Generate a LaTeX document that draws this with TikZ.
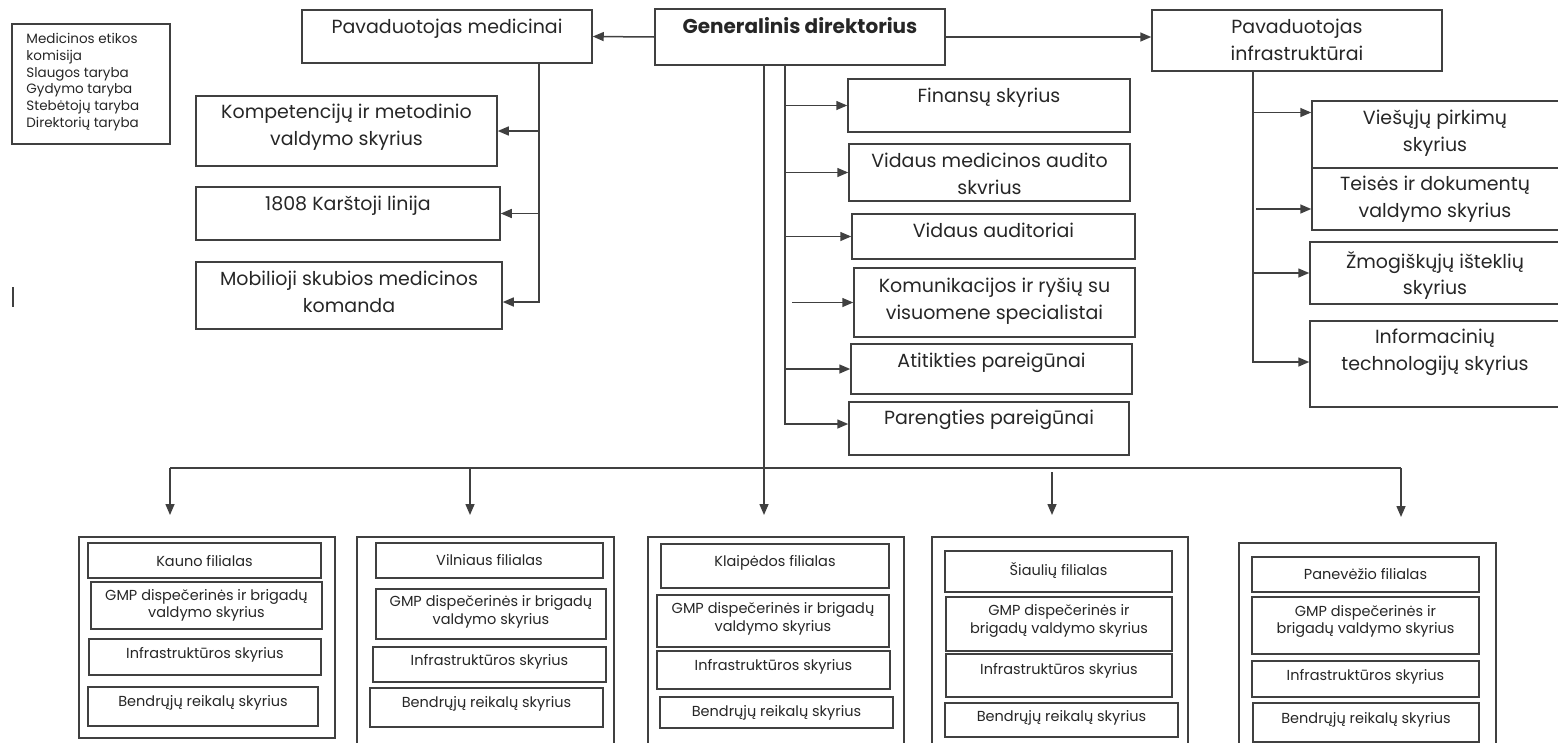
\documentclass[tikz,border=0pt]{standalone}
\usepackage{fontspec}
\setmainfont{Poppins}
\usetikzlibrary{arrows.meta,positioning,fit}

\tikzset{
  box/.style={draw=black!75, line width=1.5pt, inner sep=0pt},
  lbl/.style={font=\fontsize{19}{26.5}\selectfont, align=center, inner sep=0pt, text=black!85},
  head/.style={lbl, font=\fontsize{20}{26.5}\selectfont\bfseries},
  stxt/.style={font=\fontsize{14.5}{17.5}\selectfont, align=center, inner sep=0pt, text=black!85},
  legtxt/.style={font=\fontsize{13.5}{16.7}\selectfont, align=left, inner sep=0pt, text=black!85},
  link/.style={line width=1.5pt, draw=black!75},
  arr/.style={link, -{Triangle[length=11pt,width=9pt]}}
}

\begin{document}
\begin{tikzpicture}[x=1pt,y=-1pt]
  \clip (0,0) rectangle (1558,742);
  % councils
  \node[box, fit={(12,24) (170,144)}] (leg) {};
  \node[legtxt, anchor=north west] (legt) at ([xshift=15pt,yshift=-10pt]leg.north west)
    {Medicinos etikos\\komisija\\Slaugos taryba\\Gydymo taryba\\Stebėtojų taryba\\Direktorių taryba};
  \draw[link] (13,287) -- (13,307);

  % top level
  \node[box, fit={(655,9) (945,65)}] (gd) {};
  \node[head, below=9pt of gd.north] (gdt) {Generalinis direktorius};
  \node[box, fit={(302,10) (592,63)}] (pm) {};
  \node[lbl, below=10pt of pm.north] (pmt) {Pavaduotojas medicinai};
  \node[box, fit={(1152,10) (1442,71)}] (pi) {};
  \node[lbl, below=10pt of pi.north] (pit) {Pavaduotojas\\infrastruktūrai};

  % medicine
  \node[box, fit={(196,96) (497,166)}] (komp) {};
  \node[lbl, below=9pt of komp.north] (kompt) {Kompetencijų ir metodinio\\valdymo skyrius};
  \node[box, fit={(196,187) (500,240)}] (hot) {};
  \node[lbl, below=10pt of hot.north] (hott) {1808 Karštoji linija};
  \node[box, fit={(196,262) (502,329)}] (mob) {};
  \node[lbl, below=10pt of mob.north] (mobt) {Mobilioji skubios medicinos\\komanda};

  % director's units
  \node[box, fit={(848,79) (1130,132)}] (fin) {};
  \node[lbl, below=10pt of fin.north] (fint) {Finansų skyrius};
  \node[box, fit={(849,144) (1130,201)}] (vma) {};
  \node[lbl, below=10pt of vma.north] (vmat) {Vidaus medicinos audito\\skvrius};
  \node[box, fit={(852,214) (1135,259)}] (va) {};
  \node[lbl, below=10pt of va.north] (vat) {Vidaus auditoriai};
  \node[box, fit={(854,268) (1135,337)}] (kom) {};
  \node[lbl, below=11pt of kom.north] (komt) {Komunikacijos ir ryšių su\\visuomene specialistai};
  \node[box, fit={(851,344) (1132,394)}] (ati) {};
  \node[lbl, below=10pt of ati.north] (atit) {Atitikties pareigūnai};
  \node[box, fit={(849,402) (1129,455)}] (par) {};
  \node[lbl, below=9pt of par.north] (part) {Parengties pareigūnai};

  % infrastructure
  \node[box, fit={(1312,101) (1600,168)}] (vp) {};
  \node[lbl, below=10pt of vp.north, xshift=-21pt] (vpt) {Viešųjų pirkimų\\skyrius};
  \node[box, fit={(1312,168) (1600,230)}] (tei) {};
  \node[lbl, below=9pt of tei.north, xshift=-21pt] (teit) {Teisės ir dokumentų\\valdymo skyrius};
  \node[box, fit={(1310,242) (1600,304)}] (zmo) {};
  \node[lbl, below=10pt of zmo.north, xshift=-20pt] (zmot) {Žmogiškųjų išteklių\\skyrius};
  \node[box, fit={(1310,321) (1600,407)}] (inf) {};
  \node[lbl, below=9pt of inf.north, xshift=-20pt] (inft) {Informacinių\\technologijų skyrius};

  % branches
  \node[box, fit={(79,537) (335,738)}] (kau) {};
  \node[box, fit={(88,543) (321,578)}] (kau1) {};
  \node[box, fit={(91,582) (322,629)}] (kau2) {};
  \node[box, fit={(89,639) (321,675)}] (kau3) {};
  \node[box, fit={(88,687) (318,726)}] (kau4) {};
  \node[stxt] (kau1t) at ([yshift=-1pt]kau1) {Kauno filialas};
  \node[stxt] (kau2t) at (kau2) {GMP dispečerinės ir brigadų\\valdymo skyrius};
  \node[stxt] (kau3t) at ([yshift=2pt]kau3) {Infrastruktūros skyrius};
  \node[stxt] (kau4t) at ([yshift=4pt]kau4) {Bendrųjų reikalų skyrius};

  \node[box, fit={(357,537) (614,760)}] (vil) {};
  \node[box, fit={(376,543) (603,578)}] (vil1) {};
  \node[box, fit={(376,589) (606,639)}] (vil2) {};
  \node[box, fit={(373,647) (606,682)}] (vil3) {};
  \node[box, fit={(370,688) (603,727)}] (vil4) {};
  \node[stxt] (vil1t) at (vil1) {Vilniaus filialas};
  \node[stxt] (vil2t) at ([yshift=2pt]vil2) {GMP dispečerinės ir brigadų\\valdymo skyrius};
  \node[stxt] (vil3t) at ([yshift=3pt]vil3) {Infrastruktūros skyrius};
  \node[stxt] (vil4t) at ([yshift=4pt]vil4) {Bendrųjų reikalų skyrius};

  \node[box, fit={(648,537) (904,760)}] (kla) {};
  \node[box, fit={(661,544) (889,588)}] (kla1) {};
  \node[box, fit={(657,595) (889,647)}] (kla2) {};
  \node[box, fit={(657,651) (890,689)}] (kla3) {};
  \node[box, fit={(660,697) (893,728)}] (kla4) {};
  \node[stxt] (kla1t) at ([yshift=3pt]kla1) {Klaipėdos filialas};
  \node[stxt] (kla2t) at ([yshift=2pt]kla2) {GMP dispečerinės ir brigadų\\valdymo skyrius};
  \node[stxt] (kla3t) at ([yshift=3pt]kla3) {Infrastruktūros skyrius};
  \node[stxt] (kla4t) at (kla4) {Bendrųjų reikalų skyrius};

  \node[box, fit={(932,537) (1188,760)}] (sia) {};
  \node[box, fit={(945,551) (1172,592)}] (sia1) {};
  \node[box, fit={(946,597) (1172,651)}] (sia2) {};
  \node[box, fit={(946,654) (1172,697)}] (sia3) {};
  \node[box, fit={(945,703) (1178,737)}] (sia4) {};
  \node[stxt] (sia1t) at ([yshift=1pt]sia1) {Šiaulių filialas};
  \node[stxt] (sia2t) at ([yshift=3pt]sia2) {GMP dispečerinės ir\\brigadų valdymo skyrius};
  \node[stxt] (sia3t) at ([yshift=5pt]sia3) {Infrastruktūros skyrius};
  \node[stxt] (sia4t) at ([yshift=2pt]sia4) {Bendrųjų reikalų skyrius};

  \node[box, fit={(1239,543) (1496,760)}] (pan) {};
  \node[box, fit={(1252,557) (1479,592)}] (pan1) {};
  \node[box, fit={(1252,597) (1479,654)}] (pan2) {};
  \node[box, fit={(1252,661) (1479,697)}] (pan3) {};
  \node[box, fit={(1253,703) (1479,742)}] (pan4) {};
  \node[stxt] (pan1t) at (pan1) {Panevėžio filialas};
  \node[stxt] (pan2t) at ([yshift=4pt]pan2) {GMP dispečerinės ir\\brigadų valdymo skyrius};
  \node[stxt] (pan3t) at ([yshift=2pt]pan3) {Infrastruktūros skyrius};
  \node[stxt] (pan4t) at ([yshift=3pt]pan4) {Bendrųjų reikalų skyrius};

  % trunks and arrow ends
  \coordinate (ml) at (539,302);
  \coordinate (ct) at (785,424);
  \coordinate (rt) at (1253,362);
  \coordinate (bl) at (170,468);
  \coordinate (br) at (1401,468);
  \coordinate (a1) at (170,515);
  \coordinate (a2) at (470,515);
  \coordinate (a3) at (764,515);
  \coordinate (a4) at (1052,515);
  \coordinate (a5) at (1401,517);

  \draw[arr] (gd.west) -- (pm.east);
  \draw[arr] (gd.east) -- (gd.east -| pi.west);

  \draw[arr] (pm.south -| ml) |- (mob.east |- ml);
  \draw[arr] (ml |- komp.east) -- (komp.east);
  \draw[arr] (ml |- hot.east) -- (hot.east);

  \draw[arr] (gd.south -| ct) |- (par.west |- ct);
  \draw[arr] (ct |- fin.west) -- (fin.west);
  \draw[arr] (ct |- vma.west) -- (vma.west);
  \draw[arr] (ct |- va.west) -- (va.west);
  \draw[arr] ([xshift=7pt]ct |- kom.west) -- (kom.west);
  \draw[arr] (ct |- ati.west) -- (ati.west);

  \draw[arr] (pi.south -| rt) |- (inf.west |- rt);
  \draw[arr] ([yshift=22pt]rt |- vp.west) -- ([yshift=22pt]vp.west);
  \draw[arr] ([xshift=3pt,yshift=-10pt]rt |- tei.west) -- ([yshift=-10pt]tei.west);
  \draw[arr] (rt |- zmo.west) -- (zmo.west);

  \draw[link] (bl) -- (br);
  \draw[arr] (bl) -- (a1);
  \draw[arr] (bl -| a2) -- (a2);
  \draw[arr] (gd.south -| a3) -- (a3);
  \draw[arr] ([yshift=-4pt]bl -| a4) -- (a4);
  \draw[arr] (br) -- (a5);
\end{tikzpicture}
\end{document}
